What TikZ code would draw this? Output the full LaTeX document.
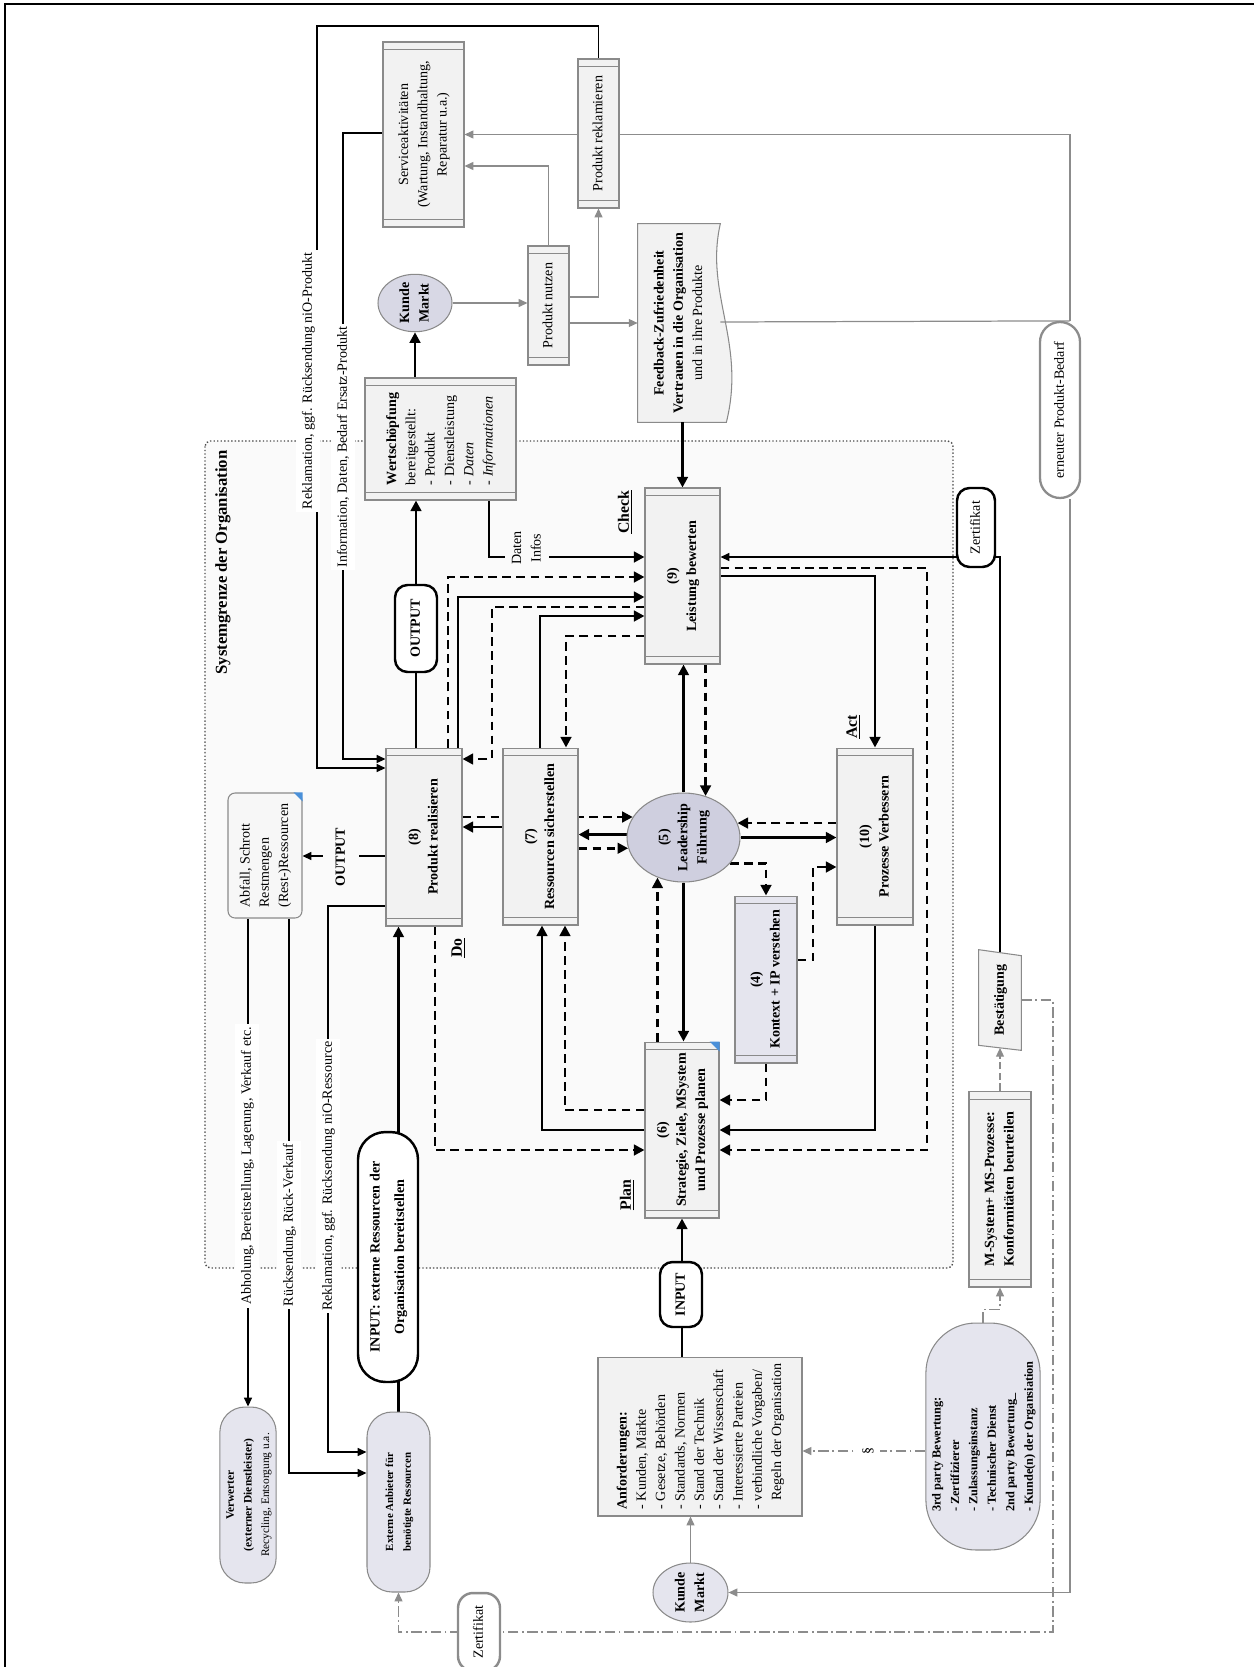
\documentclass[tikz,border=0pt]{standalone}
\usepackage{fontspec}
\setmainfont{Liberation Serif}
\usepackage{tikz}
\usetikzlibrary{arrows.meta,calc,shapes.geometric}

\definecolor{boxgray}{HTML}{F2F2F2}
\definecolor{edgegray}{HTML}{8A8A8A}
\definecolor{lav}{HTML}{D8D8E5}
\definecolor{lavdark}{HTML}{CFCFDF}
\definecolor{lavlight}{HTML}{E5E5EE}
\definecolor{wiregray}{HTML}{8C8C8C}
\definecolor{sysfill}{HTML}{FAFAFA}
\definecolor{cornerblue}{HTML}{4A90D9}

\pgfdeclarelayer{back}
\pgfdeclarelayer{wires}
\pgfsetlayers{back,wires,main}

% text turned to read upwards
\newcommand{\uptext}[2][c]{\rotatebox{90}{\begin{tabular}{@{}#1@{}}#2\end{tabular}}}

\tikzset{
  proc/.style={draw=edgegray, fill=boxgray, line width=0.6pt, inner sep=1pt,
    path picture={
      \draw[edgegray, line width=0.5pt]
        ([yshift=-4.5pt]path picture bounding box.north west) -- ([yshift=-4.5pt]path picture bounding box.north east)
        ([yshift=4.5pt]path picture bounding box.south west) -- ([yshift=4.5pt]path picture bounding box.south east);}},
  plainbox/.style={draw=edgegray, fill=boxgray, line width=0.6pt, inner sep=1pt},
  market/.style={ellipse, draw=edgegray, fill=lav, line width=0.6pt, inner sep=0pt, font=\bfseries},
  pill/.style={draw=edgegray, line width=0.6pt, inner sep=1pt},
  thickpill/.style={draw=black, fill=white, line width=1.4pt, rounded corners=0.25cm, inner sep=1pt, font=\bfseries},
  tag/.style={fill=white, inner sep=1.5pt},
  phase/.style={font=\bfseries\fontsize{9}{11}\selectfont, inner sep=1pt},
  sysline/.style={draw=black!70, fill=sysfill, line width=0.8pt, dash pattern=on 0.8pt off 1.2pt, rounded corners=3pt},
  flow/.style={line width=1.6pt, -{Triangle[length=6pt,width=6pt]}},
  dflow/.style={flow, dash pattern=on 5pt off 3pt},
  link/.style={line width=0.9pt, -{Triangle[length=5pt,width=4.5pt]}},
  wire/.style={draw=wiregray, line width=0.7pt},
  glink/.style={wire, -{Triangle[length=5pt,width=4.5pt]}},
  gdash/.style={glink, dash pattern=on 6pt off 2pt on 1pt off 2pt}
}

\AtBeginDocument{\fontsize{8}{11}\selectfont}

\begin{document}
\begin{tikzpicture}[x=0.02cm, y=-0.02cm]
\useasboundingbox (0,0) rectangle (1254,1667);

% frame and system boundary
\draw[line width=1.3pt] (5,4) rectangle (1265,1680);
\begin{pgfonlayer}{back}
  \draw[sysline] (205,441) rectangle (953,1268);
\end{pgfonlayer}
\node[font=\bfseries\fontsize{9.5}{11}\selectfont, inner sep=1pt] (sysname) at (223,562.5) {\uptext{Systemgrenze der Organisation}};

% customer side
\node[proc, minimum width=1.62cm, minimum height=3.7cm] (svc) at (423.5,134.5) {\uptext{Serviceaktivitäten\\(Wartung, Instandhaltung,\\Reparatur u.a.)}};
\node[proc, minimum width=0.82cm, minimum height=2.98cm] (rekl) at (598.5,133.5) {\uptext{Produkt reklamieren}};
\node[proc, minimum width=0.82cm, minimum height=2.38cm] (nutzen) at (548.5,305.5) {\uptext{Produkt nutzen}};
\node[market, minimum width=1.48cm, minimum height=1.14cm] (kunde) at (415,303) {\uptext{Kunde\\Markt}};
\node[font=\bfseries, inner sep=1pt, minimum width=1.64cm, minimum height=3.96cm] (fb) at (679,323) {\uptext{Feedback-Zufriedenheit\\Vertrauen in die Organisation\\\mdseries und in ihre Produkte}};
\node[pill, draw=wiregray, fill=white, line width=1.3pt, rounded corners=0.4cm, minimum width=0.8cm, minimum height=3.52cm] (bedarf) at (1060,410) {\uptext{erneuter Produkt-Bedarf}};

% PDCA inside the organisation
\node[proc, minimum width=3.02cm, minimum height=2.44cm] (wert) at (440.5,439) {\uptext[l]{\textbf{Wertschöpfung}\\bereitgestellt:\\- Produkt\\- Dienstleistung\\- \textit{Daten}\\- \textit{Informationen}}};
\node[thickpill, minimum width=0.84cm, minimum height=1.74cm] (outA) at (416,628.5) {\uptext{OUTPUT}};
\node[proc, font=\bfseries, minimum width=1.52cm, minimum height=3.56cm] (p8) at (424,837) {\uptext{(8)\\Produkt realisieren}};
\node[proc, font=\bfseries, minimum width=1.5cm, minimum height=3.54cm] (p7) at (540.5,836.5) {\uptext{(7)\\Ressourcen sicherstellen}};
\node[proc, font=\bfseries, minimum width=1.5cm, minimum height=3.52cm] (p9) at (682.5,576) {\uptext{(9)\\Leistung bewerten}};
\node[proc, font=\bfseries, minimum width=1.52cm, minimum height=3.54cm] (p10) at (875,836.5) {\uptext{(10)\\Prozesse Verbessern}};
\node[proc, font=\bfseries, fill=lavlight, minimum width=1.24cm, minimum height=3.34cm] (p4) at (766,979.5) {\uptext{(4)\\Kontext + IP verstehen}};
\node[proc, font=\bfseries, minimum width=1.48cm, minimum height=3.52cm] (p6) at (682,1130) {\uptext{(6)\\Strategie, Ziele, MSystem\\und Prozesse planen}};
\node[market, fill=lavdark, minimum width=2.26cm, minimum height=1.78cm, inner sep=-2pt] (p5) at (683.5,837.5) {\uptext{(5)\\Leadership\\Führung}};
\node[draw=edgegray, fill=boxgray!60!white, line width=0.6pt, rounded corners=4pt, inner sep=1pt, minimum width=1.48cm, minimum height=2.5cm] (abfall) at (265,855.5) {\uptext[l]{Abfall, Schrott\\Restmengen\\(Rest-)Ressourcen}};
\node[thickpill, rounded corners=0.55cm, minimum width=1.2cm, minimum height=5cm] (inext) at (388,1257) {\uptext{INPUT: externe Ressourcen der\\[3pt]Organisation bereitstellen}};
\node[thickpill, minimum width=0.84cm, minimum height=1.3cm] (inA) at (681,1294.5) {\uptext{INPUT}};

\node[phase] (check) at (625,512) {\uptext{\underline{Check}}};
\node[phase] (act) at (853,727) {\uptext{\underline{Act}}};
\node[phase] (do) at (458,948) {\uptext{\underline{Do}}};
\node[phase] (plan) at (627,1195) {\uptext{\underline{Plan}}};

% suppliers, requirements, assessment
\node[pill, fill=lavlight, rounded corners=0.5cm, minimum width=1.12cm, minimum height=3.52cm, font=\fontsize{6.5}{10}\selectfont] (verwerter) at (248,1495) {\uptext{\textbf{Verwerter}\\\textbf{(externer Dienstleister)}\\Recycling, Entsorgung u.a.}};
\node[pill, fill=lavlight, rounded corners=0.5cm, minimum width=1.26cm, minimum height=3.6cm, font=\fontsize{6.2}{10}\selectfont\bfseries] (anbieter) at (398.5,1502) {\uptext{Externe Anbieter für\\benötigte Ressourcen}};
\node[plainbox, minimum width=4.08cm, minimum height=3.18cm] (anf) at (700,1436.5) {\uptext[l]{\textbf{Anforderungen:}\\- Kunden, Märkte\\- Gesetze, Behörden\\- Standards, Normen\\- Stand der Technik\\- Stand der Wissenschaft\\- Interessierte Parteien\\- verbindliche Vorgaben/\\\phantom{- }Regeln der Organisation}};
\node[market, fill=lavlight, minimum width=1.5cm, minimum height=1.18cm] (markt) at (690.5,1592.5) {\uptext{Kunde\\Markt}};
\node[pill, fill=lavlight, rounded corners=1.0cm, minimum width=2.12cm, minimum height=4.54cm, font=\fontsize{7}{10.5}\selectfont\bfseries] (audit) at (983,1436.5) {\uptext[l]{3rd party Bewertung:\\- Zertifizierer\\- Zulassungsinstanz\\- Technischer Dienst\\2nd party Bewertung\_\\- Kunde(n) der Organsiation}};
\node[proc, font=\bfseries, minimum width=1.24cm, minimum height=3.92cm] (msys) at (1000,1189) {\uptext{M-System+ MS-Prozesse:\\Konformitäten beurteilen}};
\node[font=\bfseries, inner sep=0pt, minimum width=0.84cm, minimum height=1.9cm] (best) at (1000,1000) {\uptext{Bestätigung}};
\node[thickpill, font=\mdseries, minimum width=0.76cm, minimum height=1.58cm] (zertA) at (976,527.5) {\uptext{Zertifikat}};
\node[thickpill, draw=wiregray, font=\mdseries, rounded corners=0.3cm, minimum width=0.84cm, minimum height=1.56cm] (zertB) at (479,1632) {\uptext{Zertifikat}};

% odd shapes
\begin{pgfonlayer}{back}
  \draw[edgegray, fill=boxgray, line width=0.6pt] (fb.north west) -- (fb.north east)
    .. controls ($(fb.north east)+(-16,70)$) and ($(fb.south east)+(26,-80)$) .. ($(fb.south east)+(6,0)$)
    -- (fb.south west) -- cycle;
  \draw[edgegray, fill=boxgray, line width=0.6pt] ($(best.north west)+(0,-2.5)$) -- ($(best.north east)+(0,3.5)$)
    -- ($(best.south east)+(0,2.5)$) -- ($(best.south west)+(0,-2.5)$) -- cycle;
\end{pgfonlayer}
\fill[cornerblue] (abfall.north east) -- ++(-9,0) -- ++(9,9) -- cycle;
\fill[cornerblue] (p6.north east) -- ++(-10,0) -- ++(10,10) -- cycle;

% labels on the lines
\node[tag] (lrekl) at (308,381) {\uptext{Reklamation, ggf. Rücksendung niO-Produkt}};
\node[tag] (linfo) at (343,447) {\uptext{Information, Daten, Bedarf Ersatz-Produkt}};
\node[tag, fill=sysfill] (daten) at (527,548) {\uptext{Daten\\Infos}};
\node[tag, fill=sysfill, inner xsep=5pt, font=\bfseries] (outB) at (341,857) {\uptext{OUTPUT}};
\node[tag] (labhol) at (247,1166) {\uptext{Abholung, Bereitstellung, Lagerung, Verkauf etc.}};
\node[tag] (lrueck) at (289,1225) {\uptext{Rücksendung, Rück-Verkauf}};
\node[tag] (lreso) at (328,1176) {\uptext{Reklamation, ggf. Rücksendung niO-Ressource}};
\node[tag] (para) at (868,1451) {\uptext{§}};

\begin{pgfonlayer}{wires}
  % complaints and information back into (8)
  \draw[link] (rekl.north) |- (317,26) -- (317,768) -- (p8.west |- 0,768);
  \draw[link] (svc.west |- 0,133) -| (343,759) -- (p8.west |- 0,759);

  % customer side
  \draw[glink] (bedarf.north -| 1070,0) |- (svc.east);
  \draw[glink] (bedarf.south -| 1070,0) |- (markt.east);
  \draw[wire] (fb.east |- 0,322) -- (bedarf.north -| 1070,0);
  \draw[glink] (kunde.east) -- (nutzen.west |- kunde.east);
  \draw[glink] (nutzen.north) |- (svc.east |- 0,166);
  \draw[glink] (nutzen.east |- 0,297) -| (rekl.south);
  \draw[glink] (nutzen.east |- 0,323) -- (fb.west |- 0,323);

  % output and feedback
  \draw[flow] (wert.north -| kunde.south) -- (kunde.south);
  \draw[flow] (p8.north -| outA) -- (wert.south -| outA);
  \draw[flow] (fb.south -| p9.north) -- (p9.north);
  \draw[flow] (wert.south -| 489,0) |- (p9.west |- 0,557);

  % Do -> Check
  \draw[dflow] (p8.north -| 448,0) |- (p9.west |- 0,577);
  \draw[flow] (p8.north -| 458,0) |- (p9.west |- 0,597);
  \draw[dflow] (p9.west |- 0,607) -| (492,759) -- (p8.east |- 0,759);
  \draw[flow] (p7.north -| 540,0) |- (p9.west |- 0,616);
  \draw[dflow] (p9.west |- 0,636) -| (p7.north -| 566,0);

  % around (5)
  \draw[flow] (p5.north) -- (p9.south -| p5.north);
  \draw[dflow] (p9.south -| p5.62) -- (p5.62);
  \draw[dflow] (p8.east |- p5.158) -- (p5.158);
  \draw[flow] (p7.west |- 0,827) -- (p8.east |- 0,827);
  \draw[flow] (p5.177) -- (p7.east |- p5.177);
  \draw[dflow] (p7.east |- p5.191) -- (p5.191);
  \draw[dflow] (p10.west |- p5.15) -- (p5.15);
  \draw[flow] (p5.east) -- (p10.west |- p5.east);
  \draw[flow] (p5.south) -- (p6.north -| p5.south);
  \draw[dflow] (p6.north -| p5.237) -- (p5.237);

  % (4)
  \draw[dflow] (p5.331) -| (p4.north);
  \draw[dflow] (p4.east |- 0,960) -| (813,867) -- (p10.west |- 0,867);
  \draw[dflow] (p4.south) |- (p6.east |- 0,1100);

  % Plan -> Do, Check -> Act -> Plan
  \draw[flow] (p6.west |- 0,1130) -| (p7.south -| 542,0);
  \draw[dflow] (p6.west |- 0,1110) -| (p7.south -| 565,0);
  \draw[dflow] (p8.south -| 435,0) |- (p6.west |- 0,1150);
  \draw[flow] (p9.east |- 0,576) -| (p10.north);
  \draw[flow] (p10.south) |- (p6.east |- 0,1130);
  \draw[dflow] (p9.east |- 0,568) -| (927,1150) -- (p6.east |- 0,1150);

  % inputs
  \draw[flow] (anf.north -| p6.south) -- (p6.south);
  \draw[flow] (anbieter.north) -- (p8.south -| anbieter.north);

  % residues
  \draw[link] (p8.west |- 0,856) -- (abfall.east |- 0,856);
  \draw[link] (abfall.south -| verwerter.north) -- (verwerter.north);
  \draw[link] (abfall.south -| 289,0) |- (anbieter.west |- 0,1473);
  \draw[link] (p8.west |- 0,906) -| (328,1452) -- (anbieter.west |- 0,1452);

  % assessment
  \draw[link] (best.north) |- (p9.east |- 0,557);
  \draw[glink, dash pattern=on 4pt off 2pt] (msys.north) -- (best.south);
  \draw[gdash] (audit.north) -- ++(0,-13) -| (msys.south);
  \draw[gdash] (audit.west |- 0,1451) -- (anf.east |- 0,1451);
  \draw[gdash] (best.east) -| (1053,1632) -| (anbieter.south);
  \draw[glink] (markt.north) -- (anf.south -| markt.north);
\end{pgfonlayer}
\end{tikzpicture}
\end{document}
